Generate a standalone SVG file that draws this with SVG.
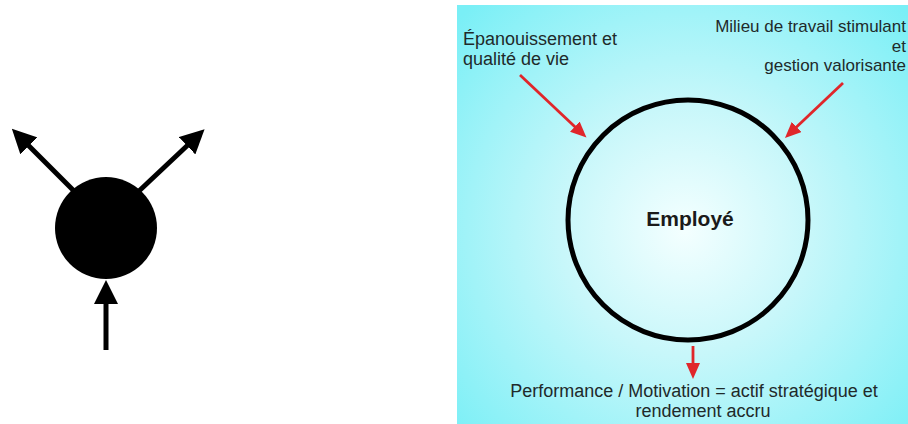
<svg xmlns="http://www.w3.org/2000/svg" width="908" height="424" viewBox="0 0 908 424">
<style>
.lbl{font-family:"Liberation Sans",Arial,sans-serif;font-size:18px;fill:#1f2a2a}
.lblr{font-family:"Liberation Sans",Arial,sans-serif;font-size:17px;fill:#1f2a2a}
.title{font-family:"Liberation Sans",Arial,sans-serif;font-size:21px;font-weight:bold;fill:#1a1a1a}
.blk{stroke:#000;stroke-width:5;fill:none}
.red{stroke:#e0262a;stroke-width:2.8;fill:none}
</style>
<defs>
<radialGradient id="bg" gradientUnits="userSpaceOnUse" cx="685" cy="230" r="310">
<stop offset="0" stop-color="#f4ffff"/>
<stop offset="0.4" stop-color="#c8f7fa"/>
<stop offset="1" stop-color="#7aeff6"/>
</radialGradient>
<marker id="ahB" markerUnits="userSpaceOnUse" viewBox="0 0 24 24" markerWidth="24" markerHeight="24" refX="4" refY="12" orient="auto">
<path d="M0,0 L24,12 L0,24 z" fill="#000"/>
</marker>
<marker id="ahR" markerUnits="userSpaceOnUse" viewBox="0 0 16 14" markerWidth="16" markerHeight="14" refX="3" refY="7" orient="auto">
<path d="M0,0 L16,7 L0,14 z" fill="#e0262a"/>
</marker>
</defs>
<rect width="908" height="424" fill="#fff"/>
<rect id="panel" x="457" y="5" width="451" height="419" fill="url(#bg)"/>
<g id="node-dot">
<circle cx="106" cy="228" r="51" fill="#000"/>
</g>
<g id="node-employe">
<circle cx="688" cy="220" r="120" fill="none" stroke="#000" stroke-width="5"/>
<text class="title" x="690" y="226" text-anchor="middle">Employé</text>
</g>
<g id="label-epanouissement">
<text class="lbl"><tspan x="463" y="45">Épanouissement et</tspan><tspan x="463" y="65">qualité de vie</tspan></text>
</g>
<g id="label-milieu">
<text class="lblr" text-anchor="end"><tspan x="906" y="32">Milieu de travail stimulant</tspan><tspan x="906" y="51.5">et</tspan><tspan x="906" y="71">gestion valorisante</tspan></text>
</g>
<g id="label-performance">
<text class="lbl" text-anchor="middle"><tspan x="694" y="397">Performance / Motivation = actif stratégique et</tspan><tspan x="703" y="417">rendement accru</tspan></text>
</g>
<g id="connectors">
<line class="blk" x1="90" y1="207" x2="26" y2="143" marker-end="url(#ahB)"/>
<line class="blk" x1="122" y1="207" x2="190" y2="143" marker-end="url(#ahB)"/>
<line class="blk" x1="106" y1="350" x2="106" y2="300" marker-end="url(#ahB)"/>
<line class="red" x1="520" y1="75" x2="577" y2="128.7" marker-end="url(#ahR)"/>
<line class="red" x1="843" y1="83" x2="794.4" y2="129" marker-end="url(#ahR)"/>
<line class="red" x1="693" y1="346" x2="693" y2="366" marker-end="url(#ahR)"/>
</g>
</svg>
